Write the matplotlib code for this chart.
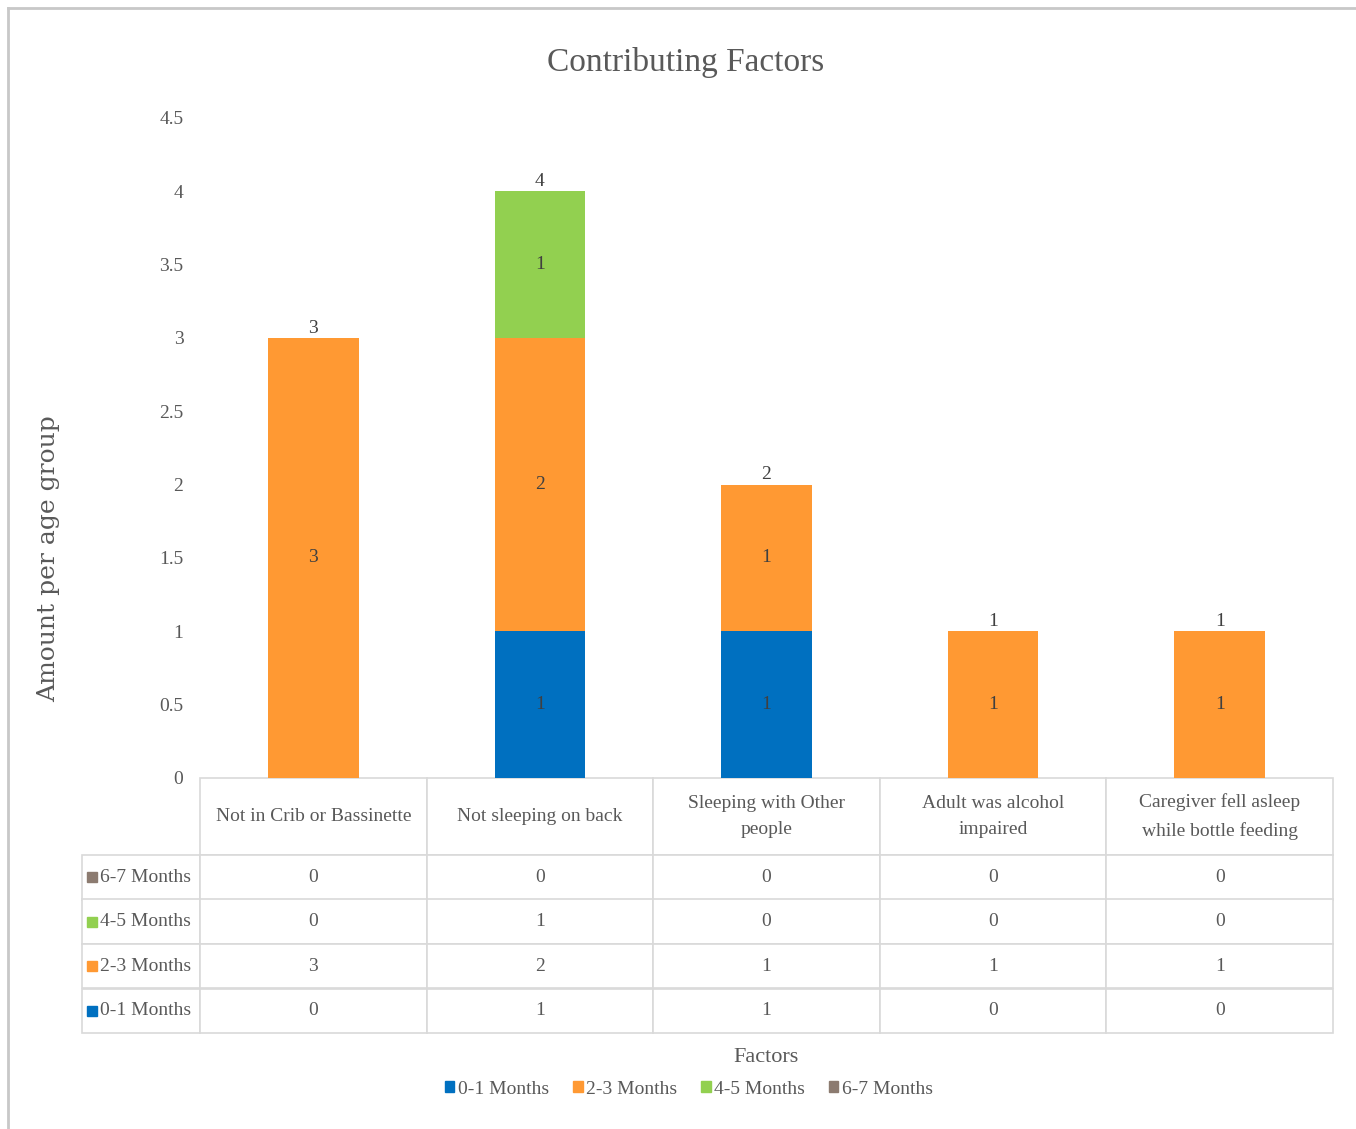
import matplotlib.pyplot as plt
from matplotlib.lines import Line2D
from matplotlib.patches import Patch

plt.rcParams['font.family'] = ['Liberation Serif', 'DejaVu Serif']

factors = ['Not in Crib or Bassinette', 'Not sleeping on back',
           'Sleeping with Other\npeople', 'Adult was alcohol\nimpaired',
           'Caregiver fell asleep\nwhile bottle feeding']
groups = ['0-1 Months', '2-3 Months', '4-5 Months', '6-7 Months']
m0_1 = [0, 1, 1, 0, 0]
m2_3 = [3, 2, 1, 1, 1]
m4_5 = [0, 1, 0, 0, 0]
m6_7 = [0, 0, 0, 0, 0]
series = [m0_1, m2_3, m4_5, m6_7]
colors = ['#0070C0', '#FF9933', '#92D050', '#8C7B70']
yticks = [0, 0.5, 1, 1.5, 2, 2.5, 3, 3.5, 4, 4.5]

txt = '#595959'
W, H = 1356, 1129
fig = plt.figure(figsize=(W / 100, H / 100), dpi=100)
ax = fig.add_axes([200 / W, 1 - 778 / H, 1133 / W, 660 / H])

x = list(range(len(factors)))
bottom = [0] * len(factors)
for vals, col in zip(series, colors):
    ax.bar(x, vals, 0.4, bottom=bottom, color=col)
    for i, v in enumerate(vals):
        if v > 0:
            ax.text(i, bottom[i] + v / 2, str(v), ha='center', va='center',
                    fontsize=14, color='#404040')
    bottom = [b + v for b, v in zip(bottom, vals)]
for i, t in enumerate(bottom):
    ax.annotate(str(t), (i, t), xytext=(0, 1), textcoords='offset points',
                ha='center', va='bottom', fontsize=14, color='#404040')

ax.set_xlim(-0.5, len(factors) - 0.5)
ax.set_ylim(0, 4.5)
ax.set_yticks(yticks)
ax.set_yticklabels([('%g' % t) for t in yticks])
ax.tick_params(axis='y', length=0, pad=12, labelsize=14, labelcolor=txt)
ax.set_xticks([])
for s in ax.spines.values():
    s.set_visible(False)
ax.set_ylabel('Amount per age group', family='DejaVu Serif', fontsize=18,
              color=txt)
ax.yaxis.set_label_coords(-0.1236, 0.333)
fig.text(686 / W, 1 - 62 / H, 'Contributing Factors', ha='center',
         va='center', fontsize=24, color=txt)

# data table below the bars
rows = list(zip(groups, series))[::-1]
cell_text = [[''] + [str(v) for v in vals] for g, vals in rows]
tbl = ax.table(cellText=cell_text, colLabels=[''] + factors,
               cellLoc='center', bbox=[-118 / 1133, -255 / 660, 1251 / 1133, 255 / 660])
tbl.auto_set_font_size(False)
tbl.set_fontsize(14)
for (r, c), cell in tbl.get_celld().items():
    cell.set_edgecolor('#D9D9D9')
    cell.set_linewidth(1.2)
    cell.set_height(77 if r == 0 else 44.5)
    cell.set_width(118 if c == 0 else 226.6)
    cell.get_text().set_color(txt)
    cell.get_text().set_linespacing(1.75)
tbl.get_celld()[(0, 0)].visible_edges = ''
for r, (g, vals) in enumerate(rows, start=1):
    cell = tbl.get_celld()[(r, 0)]
    cell.get_text().set_text(g)
    cell.get_text().set_ha('left')
    cell.PAD = 0.15
    col = colors[groups.index(g)]
    ycen = (-77 - 44.5 * (r - 1) - 22.25) / 660
    ax.plot([(92 - 200) / 1133], [ycen], marker='s', markersize=7,
            color=col, clip_on=False, transform=ax.transAxes)

fig.text(766 / W, 1 - 1058 / H, 'Factors', ha='center', va='center',
         fontsize=16, color=txt)
handles = [Patch(color=c) for c in colors]
fig.legend(handles, groups, loc='center', ncol=4, frameon=False,
           bbox_to_anchor=(689 / W, 1 - 1089 / H), fontsize=14,
           handlelength=0.5, handleheight=0.5, handletextpad=0.2,
           columnspacing=1.2, labelcolor=txt)

fig.add_artist(Line2D([8 / W, 1], [1 - 8 / H, 1 - 8 / H], color='#C8C8C8', lw=2))
fig.add_artist(Line2D([8 / W, 8 / W], [0, 1 - 8 / H], color='#C8C8C8', lw=2))

fig.savefig('out.png', dpi=100, facecolor='white')
